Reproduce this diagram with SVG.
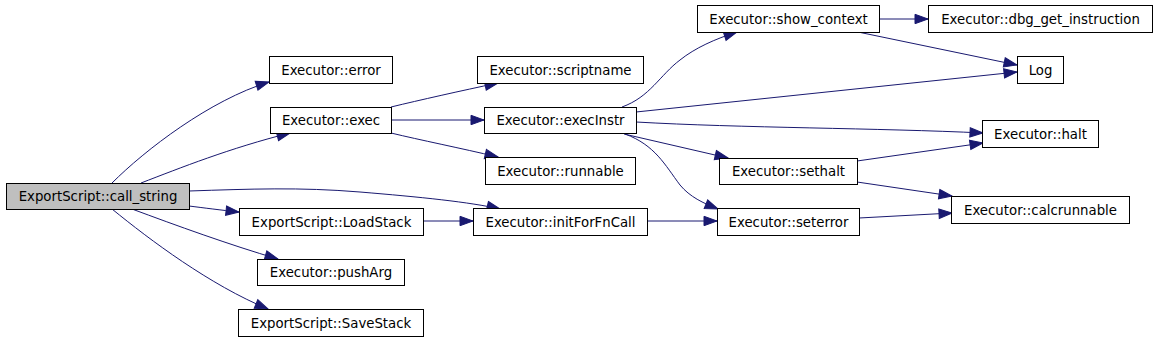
<svg xmlns="http://www.w3.org/2000/svg" width="1157" height="341" viewBox="0 0 1157 341">
<defs>
<marker id="ah" markerUnits="userSpaceOnUse" markerWidth="15" markerHeight="11" refX="13" refY="4.7" orient="auto" overflow="visible">
<path d="M0,0 L13,4.7 L0,9.4 z" fill="#191970" stroke="#191970" stroke-width="1"/>
</marker>
</defs>
<style>
.n rect{fill:#ffffff;stroke:#000000;stroke-width:1}
.n text{font-family:"DejaVu Sans","Liberation Sans",sans-serif;font-size:13.3px;fill:#000000;text-anchor:middle}
.root rect{fill:#bfbfbf}
.e path{fill:none;stroke:#191970;stroke-width:1;marker-end:url(#ah)}
</style>
<rect x="0" y="0" width="1157" height="341" fill="#ffffff"/>
<g id="edges" class="e">
<path d="M112,183 C145,150 210,100 269,82"/>
<path d="M141,183 C180,168 230,148 290,133"/>
<path d="M189,191 C250,189 300,187 360,192 C420,197 470,202 500,209"/>
<path d="M189,206 C205,208 220,210 239,212"/>
<path d="M132,209 C175,225 230,245 278,259"/>
<path d="M112,209 C150,240 210,285 268,309"/>
<path d="M391,107 C420,100 460,91 498,83"/>
<path d="M391,120 L484,120"/>
<path d="M391,133 C420,140 460,148 498,157"/>
<path d="M423,221 L473,221"/>
<path d="M647,221 L717,221"/>
<path d="M622,107 C650,97 660,75 680,60 C695,48 715,39 737,32"/>
<path d="M636,112 L1017,72"/>
<path d="M636,122 C740,128 880,128 983,133"/>
<path d="M624,134 L728,158"/>
<path d="M625,134 C655,145 665,165 680,185 C690,197 703,203 718,209"/>
<path d="M879,19 L928,19"/>
<path d="M858,32 L1017,65"/>
<path d="M857,161 L983,143"/>
<path d="M857,182 L952,196"/>
<path d="M859,218 L952,213"/>
</g>
<g id="n_call_string" class="n root"><rect x="6.5" y="183.5" width="183" height="26"/><text x="98" y="201">ExportScript::call_string</text></g>
<g id="n_error" class="n"><rect x="269.5" y="56.5" width="123" height="27"/><text x="331" y="74.5">Executor::error</text></g>
<g id="n_exec" class="n"><rect x="270.5" y="107.5" width="121" height="26"/><text x="331" y="125">Executor::exec</text></g>
<g id="n_loadstack" class="n"><rect x="239.5" y="208.5" width="184" height="27"/><text x="331.5" y="226.5">ExportScript::LoadStack</text></g>
<g id="n_pusharg" class="n"><rect x="257.5" y="259.5" width="147" height="26"/><text x="331" y="277">Executor::pushArg</text></g>
<g id="n_savestack" class="n"><rect x="238.5" y="309.5" width="185" height="27"/><text x="331" y="327.5">ExportScript::SaveStack</text></g>
<g id="n_show_context" class="n"><rect x="697.5" y="5.5" width="182" height="27"/><text x="788.5" y="23.5">Executor::show_context</text></g>
<g id="n_scriptname" class="n"><rect x="477.5" y="56.5" width="166" height="27"/><text x="560.5" y="74.5">Executor::scriptname</text></g>
<g id="n_execinstr" class="n"><rect x="484.5" y="107.5" width="152" height="26"/><text x="560.5" y="125">Executor::execInstr</text></g>
<g id="n_runnable" class="n"><rect x="485.5" y="157.5" width="150" height="27"/><text x="560.5" y="175.5">Executor::runnable</text></g>
<g id="n_initforfncall" class="n"><rect x="473.5" y="208.5" width="174" height="27"/><text x="560.5" y="226.5">Executor::initForFnCall</text></g>
<g id="n_sethalt" class="n"><rect x="719.5" y="158.5" width="138" height="26"/><text x="788.5" y="176">Executor::sethalt</text></g>
<g id="n_seterror" class="n"><rect x="717.5" y="208.5" width="142" height="27"/><text x="788.5" y="226.5">Executor::seterror</text></g>
<g id="n_dbg_get_instruction" class="n"><rect x="928.5" y="5.5" width="224" height="27"/><text x="1040.5" y="23.5">Executor::dbg_get_instruction</text></g>
<g id="n_log" class="n"><rect x="1017.5" y="56.5" width="46" height="27"/><text x="1040.5" y="74.5">Log</text></g>
<g id="n_halt" class="n"><rect x="982.5" y="120.5" width="116" height="27"/><text x="1040.5" y="138.5">Executor::halt</text></g>
<g id="n_calcrunnable" class="n"><rect x="951.5" y="196.5" width="178" height="27"/><text x="1040.5" y="214.5">Executor::calcrunnable</text></g>
</svg>
